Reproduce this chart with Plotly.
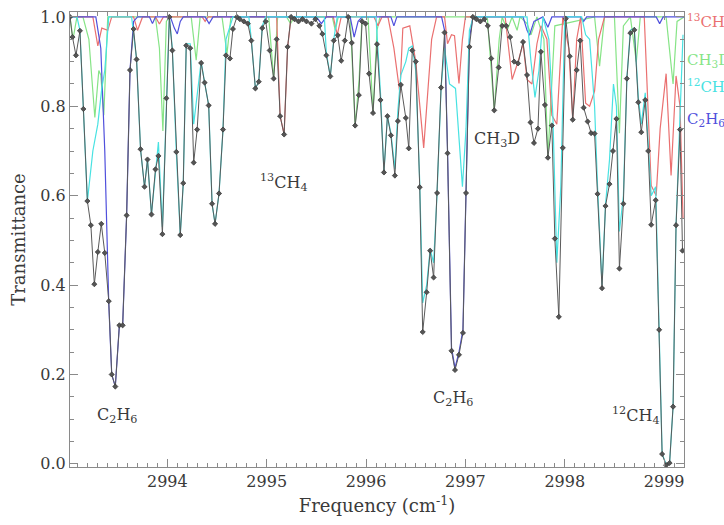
import plotly.graph_objects as go

# observed spectrum (black, with markers)
obs_freq = [2993.02, 2993.045, 2993.08, 2993.12, 2993.155, 2993.195, 2993.23, 2993.265, 2993.30, 2993.335,
            2993.37, 2993.41, 2993.44, 2993.476, 2993.517, 2993.55, 2993.59, 2993.624, 2993.66, 2993.69,
            2993.73, 2993.77, 2993.80, 2993.84, 2993.88, 2993.91, 2993.95, 2993.99, 2994.02, 2994.05,
            2994.09, 2994.13, 2994.16, 2994.19, 2994.23, 2994.265, 2994.30, 2994.34, 2994.375, 2994.416,
            2994.45, 2994.48, 2994.52, 2994.56, 2994.59, 2994.63, 2994.66, 2994.70, 2994.73, 2994.77,
            2994.81, 2994.845, 2994.886, 2994.92, 2994.955, 2994.99, 2995.03, 2995.07, 2995.10, 2995.135,
            2995.175, 2995.21, 2995.245, 2995.28, 2995.32, 2995.36, 2995.40, 2995.45, 2995.49, 2995.53,
            2995.56, 2995.60, 2995.64, 2995.675, 2995.715, 2995.75, 2995.786, 2995.82, 2995.856, 2995.89,
            2995.927, 2995.96, 2995.995, 2996.03, 2996.07, 2996.11, 2996.145, 2996.18, 2996.215, 2996.25,
            2996.29, 2996.32, 2996.35, 2996.40, 2996.43, 2996.465, 2996.50, 2996.54, 2996.57, 2996.61,
            2996.645, 2996.68, 2996.715, 2996.755, 2996.79, 2996.82, 2996.86, 2996.895, 2996.935, 2996.975,
            2997.006, 2997.04, 2997.075, 2997.11, 2997.15, 2997.19, 2997.225, 2997.26, 2997.29, 2997.335,
            2997.37, 2997.41, 2997.45, 2997.49, 2997.53, 2997.58, 2997.62, 2997.655, 2997.69, 2997.73,
            2997.76, 2997.80, 2997.83, 2997.87, 2997.90, 2997.94, 2997.98, 2998.01, 2998.05, 2998.08,
            2998.12, 2998.155, 2998.19, 2998.23, 2998.265, 2998.30, 2998.33, 2998.375, 2998.41, 2998.45,
            2998.485, 2998.52, 2998.55, 2998.59, 2998.625, 2998.66, 2998.70, 2998.74, 2998.77, 2998.81,
            2998.84, 2998.87, 2998.915, 2998.95, 2998.98, 2999.02, 2999.055, 2999.09, 2999.12, 2999.16,
            2999.185]
obs_trans = [1.00, 0.955, 0.914, 0.969, 0.794, 0.588, 0.534, 0.402, 0.474, 0.537,
             0.472, 0.364, 0.200, 0.173, 0.310, 0.310, 0.556, 0.881, 0.973, 0.905,
             0.704, 0.620, 0.681, 0.558, 0.659, 0.689, 0.514, 0.818, 1.000, 0.925,
             0.698, 0.512, 0.628, 0.936, 0.930, 0.674, 0.748, 0.897, 0.853, 0.802,
             0.582, 0.537, 0.605, 0.748, 0.914, 0.907, 0.973, 1.000, 0.995, 0.990,
             0.985, 0.947, 0.840, 0.855, 0.975, 0.990, 0.925, 0.862, 0.950, 0.778,
             0.737, 0.933, 1.000, 0.995, 0.990, 0.995, 0.990, 0.985, 0.995, 0.980,
             0.962, 0.914, 0.867, 0.947, 0.959, 0.902, 0.947, 1.000, 0.942, 0.757,
             0.825, 0.990, 0.985, 0.873, 0.785, 0.939, 0.814, 0.652, 0.778, 0.735,
             0.645, 0.767, 0.848, 0.774, 0.706, 0.925, 0.900, 0.619, 0.295, 0.384,
             0.477, 0.417, 0.606, 0.842, 0.965, 0.695, 0.253, 0.210, 0.244, 0.293,
             0.606, 0.933, 1.000, 0.995, 0.990, 0.995, 0.980, 0.907, 0.791, 0.887,
             0.980, 0.980, 0.955, 0.900, 0.896, 0.944, 0.870, 0.764, 0.718, 0.750,
             0.922, 0.803, 0.685, 0.757, 0.504, 0.329, 0.707, 0.996, 0.912, 0.770,
             0.881, 0.947, 0.797, 0.766, 0.740, 0.739, 0.604, 0.393, 0.577, 0.626,
             0.700, 0.772, 0.437, 0.582, 0.862, 0.964, 0.971, 0.809, 0.742, 0.814,
             0.700, 0.535, 0.590, 0.300, 0.022, -0.003, 0.002, 0.128, 0.534, 0.748,
             0.477]

# 13CH4 model (red)
ch4_13_freq = [2993.02, 2993.25, 2993.30, 2993.34, 2993.40, 2993.44, 2993.66, 2993.70, 2993.75, 2993.88,
               2993.92, 2993.96, 2994.35, 2994.38, 2994.41, 2995.10, 2995.135, 2995.175, 2995.21, 2995.245,
               2995.67, 2995.71, 2995.75, 2996.08, 2996.12, 2996.16, 2996.22, 2996.28, 2996.34, 2996.37,
               2996.44, 2996.50, 2996.58, 2996.66, 2996.71, 2996.79, 2996.82, 2996.86, 2996.89, 2996.935,
               2996.97, 2997.00, 2997.40, 2997.47, 2997.53, 2997.58, 2997.62, 2997.67, 2997.72, 2997.76,
               2997.82, 2997.87, 2997.92, 2997.98, 2998.04, 2998.08, 2998.12, 2998.16, 2998.21, 2998.25,
               2998.30, 2998.34, 2998.40, 2998.80, 2998.87, 2998.92, 2998.96, 2999.02, 2999.07, 2999.12,
               2999.16, 2999.19]
ch4_13_trans = [1.00, 1.00, 0.935, 0.975, 0.970, 1.00, 1.00, 0.970, 1.00, 1.00,
                0.984, 1.00, 1.00, 0.990, 1.00, 1.00, 0.778, 0.737, 0.930, 1.00,
                1.00, 0.960, 1.00, 1.00, 0.980, 1.00, 1.00, 0.930, 0.830, 0.975,
                0.980, 0.900, 0.707, 0.950, 1.00, 1.00, 0.940, 0.960, 0.958, 0.851,
                0.950, 1.00, 1.00, 0.860, 0.900, 0.940, 0.860, 0.850, 0.940, 0.980,
                0.950, 0.780, 0.760, 1.00, 0.930, 0.770, 0.950, 1.00, 0.807, 0.800,
                0.834, 0.950, 1.00, 1.00, 0.623, 0.600, 0.750, 0.873, 0.645, 0.868,
                0.800, 0.550]

# CH3D model (green)
ch3d_freq = [2993.02, 2993.05, 2993.09, 2993.15, 2993.21, 2993.27, 2993.31, 2993.33, 2993.36, 2993.40,
             2993.88, 2993.92, 2993.955, 2993.99, 2994.02, 2994.24, 2994.29, 2994.33, 2994.55, 2994.60,
             2994.64, 2995.02, 2995.07, 2995.11, 2995.20, 2995.24, 2995.28, 2995.66, 2995.69, 2995.72,
             2995.84, 2995.89, 2995.93, 2995.96, 2996.02, 2996.07, 2996.11, 2996.14, 2997.22, 2997.29,
             2997.34, 2997.37, 2997.42, 2997.47, 2997.52, 2997.55, 2997.62, 2997.66, 2997.72, 2997.79,
             2997.83, 2997.87, 2997.90, 2998.30, 2998.35, 2998.40, 2998.50, 2998.55, 2998.59, 2998.66,
             2998.72, 2998.76, 2999.02, 2999.09, 2999.13, 2999.20]
ch3d_trans = [1.00, 0.950, 1.00, 1.00, 0.950, 0.775, 0.880, 0.870, 0.780, 1.00,
              1.00, 0.930, 0.745, 0.990, 1.00, 1.00, 0.903, 1.00, 1.00, 0.918,
              1.00, 1.00, 0.862, 1.00, 1.00, 0.985, 1.00, 1.00, 0.970, 1.00,
              1.00, 0.757, 0.860, 1.00, 1.00, 0.785, 0.970, 1.00, 1.00, 0.791,
              0.950, 1.00, 0.970, 1.00, 0.970, 1.00, 0.985, 0.960, 1.00, 0.950,
              0.685, 0.870, 0.980, 1.00, 0.890, 1.00, 1.00, 0.740, 0.980, 1.00,
              0.900, 1.00, 1.00, 0.850, 0.990, 1.00]

# 12CH4 model (cyan)
ch4_12_freq = [2993.02, 2993.09, 2993.12, 2993.155, 2993.195, 2993.25, 2993.30, 2993.34, 2993.37, 2993.41,
               2993.64, 2993.69, 2993.73, 2993.77, 2993.80, 2993.84, 2993.88, 2993.91, 2993.95, 2993.99,
               2994.02, 2994.05, 2994.09, 2994.13, 2994.16, 2994.19, 2994.23, 2994.265, 2994.30, 2994.34,
               2994.375, 2994.416, 2994.45, 2994.48, 2994.52, 2994.56, 2994.59, 2994.63, 2994.66, 2994.82,
               2994.845, 2994.886, 2994.92, 2994.955, 2994.99, 2995.58, 2995.60, 2995.64, 2995.675, 2995.71,
               2996.10, 2996.145, 2996.18, 2996.215, 2996.25, 2996.29, 2996.32, 2996.35, 2996.40, 2996.43,
               2996.465, 2996.50, 2996.54, 2996.57, 2996.61, 2996.645, 2996.68, 2996.715, 2996.755, 2996.79,
               2996.84, 2996.90, 2996.97, 2997.006, 2997.04, 2997.08, 2997.62, 2997.66, 2997.70, 2997.74,
               2997.78, 2997.84, 2997.88, 2997.92, 2997.96, 2998.00, 2998.17, 2998.21, 2998.25, 2998.30,
               2998.33, 2998.375, 2998.41, 2998.45, 2998.49, 2998.52, 2998.55, 2998.59, 2998.625, 2998.66,
               2998.70, 2998.74, 2998.77, 2998.81, 2998.84, 2998.87, 2998.915, 2998.95, 2998.98, 2999.02,
               2999.055, 2999.09, 2999.12, 2999.16, 2999.19]
ch4_12_trans = [1.00, 1.00, 0.970, 0.794, 0.588, 0.700, 0.760, 0.840, 0.880, 1.00,
                1.00, 0.905, 0.704, 0.620, 0.681, 0.558, 0.660, 0.720, 0.530, 0.830,
                1.00, 0.930, 0.698, 0.512, 0.628, 0.940, 0.940, 0.760, 0.830, 0.900,
                0.853, 0.802, 0.582, 0.537, 0.605, 0.748, 0.950, 0.980, 1.00, 1.00,
                0.950, 0.840, 0.855, 0.980, 1.00, 1.00, 0.920, 0.867, 0.950, 1.00,
                1.00, 0.830, 0.652, 0.778, 0.740, 0.660, 0.790, 0.870, 0.900, 0.930,
                0.935, 0.880, 0.630, 0.360, 0.400, 0.480, 0.450, 0.606, 0.842, 0.930,
                0.850, 0.840, 0.620, 0.750, 0.970, 1.00, 1.00, 0.900, 0.820, 0.880,
                1.00, 0.950, 0.780, 0.450, 0.620, 1.00, 1.00, 0.960, 0.950, 0.800,
                0.620, 0.400, 0.580, 0.680, 0.850, 0.800, 0.520, 0.600, 0.862, 0.970,
                0.975, 0.820, 0.760, 0.830, 0.720, 0.600, 0.620, 0.300, 0.022, 0.000,
                0.002, 0.128, 0.534, 0.780, 0.960]

# C2H6 model (blue)
c2h6_freq = [2993.02, 2993.28, 2993.33, 2993.37, 2993.41, 2993.44, 2993.476, 2993.517, 2993.55, 2993.59,
             2993.624, 2993.66, 2993.70, 2993.82, 2993.85, 2993.88, 2994.03, 2994.07, 2994.10, 2994.13,
             2994.16, 2994.38, 2994.42, 2994.46, 2995.50, 2995.55, 2995.60, 2995.84, 2995.88, 2995.92,
             2995.96, 2996.25, 2996.28, 2996.31, 2996.76, 2996.79, 2996.82, 2996.86, 2996.895, 2996.935,
             2996.975, 2997.006, 2997.04, 2997.075, 2997.58, 2997.62, 2997.645, 2997.69, 2997.78, 2997.83,
             2997.87, 2998.16, 2998.19, 2998.22, 2998.92, 2998.955, 2998.99, 2999.20]
c2h6_trans = [1.00, 1.00, 0.930, 0.700, 0.360, 0.200, 0.173, 0.310, 0.310, 0.556,
              0.881, 0.990, 1.00, 1.00, 0.985, 1.00, 1.00, 0.975, 0.962, 0.990,
              1.00, 1.00, 0.985, 1.00, 1.00, 0.985, 1.00, 1.00, 0.955, 0.990,
              1.00, 1.00, 0.980, 1.00, 1.00, 0.970, 0.700, 0.260, 0.215, 0.250,
              0.300, 0.610, 0.950, 1.00, 1.00, 0.970, 0.959, 0.990, 1.00, 0.977,
              1.00, 1.00, 0.990, 1.00, 1.00, 0.985, 1.00, 1.00]

serif = "DejaVu Serif"
txt = "#3a3a3a"
fig = go.Figure()

models = [
    (ch3d_freq, ch3d_trans, "#86e486"),
    (ch4_13_freq, ch4_13_trans, "#ea7070"),
    (c2h6_freq, c2h6_trans, "#5050dc"),
    (ch4_12_freq, ch4_12_trans, "#48e2e2"),
]
for fx, ty, col in models:
    fig.add_trace(go.Scatter(x=fx, y=ty, mode="lines", line=dict(color=col, width=1.2),
                             showlegend=False, hoverinfo="skip"))

fig.add_trace(go.Scatter(x=obs_freq, y=obs_trans, mode="lines+markers",
                         line=dict(color="#5a5a5a", width=1),
                         marker=dict(symbol="diamond", size=4, color="#555555",
                                     line=dict(color="#333333", width=0.7)),
                         showlegend=False))

# labels inside the plot
inner = [
    (2993.49, 0.108, "C<sub>2</sub>H<sub>6</sub>"),
    (2995.17, 0.63, "<sup>13</sup>CH<sub>4</sub>"),
    (2997.32, 0.725, "CH<sub>3</sub>D"),
    (2996.87, 0.146, "C<sub>2</sub>H<sub>6</sub>"),
    (2998.72, 0.109, "<sup>12</sup>CH<sub>4</sub>"),
]
for x, y, t in inner:
    fig.add_annotation(x=x, y=y, text=t, showarrow=False,
                       font=dict(family=serif, size=16, color=txt))

# labels to the right of the plot (cut by the page edge, as in the original)
side = [
    (0.980, "<sup>13</sup>CH<sub>4</sub>", "#ea7070"),
    (0.893, "CH<sub>3</sub>D", "#86e486"),
    (0.836, "<sup>12</sup>CH<sub>4</sub>", "#48e2e2"),
    (0.764, "C<sub>2</sub>H<sub>6</sub>", "#5050dc"),
]
for y, t, col in side:
    fig.add_annotation(xref="paper", yref="paper", x=1.0, y=y, xanchor="left", yanchor="middle",
                       xshift=1, text=t, showarrow=False, font=dict(family=serif, size=15, color=col))

axis_common = dict(showline=True, linecolor="#8a8a8a", linewidth=1, mirror="ticks",
                   ticks="inside", tickcolor="#8a8a8a", ticklen=8, showgrid=False, zeroline=False,
                   tickfont=dict(family=serif, size=16, color=txt))

fig.update_xaxes(range=[2993.02, 2999.2], dtick=1, tick0=2994,
                 minor=dict(dtick=0.1, ticklen=4, ticks="inside", tickcolor="#8a8a8a"),
                 title=dict(text="Frequency (cm<sup>-1</sup>)", font=dict(family=serif, size=18, color=txt),
                            standoff=9),
                 **axis_common)
fig.update_yaxes(range=[-0.007, 1.011], dtick=0.2, tick0=0, tickformat=".1f",
                 minor=dict(dtick=0.05, ticklen=4, ticks="inside", tickcolor="#8a8a8a"),
                 title=dict(text="Transmittance", font=dict(family=serif, size=18, color=txt),
                            standoff=10),
                 **axis_common)

fig.update_layout(width=724, height=525, margin=dict(l=70, r=40, t=8, b=58),
                  plot_bgcolor="white", paper_bgcolor="white")

fig.write_html("out.html", config={"displayModeBar": False},
               post_script="document.body.style.margin='0';")
